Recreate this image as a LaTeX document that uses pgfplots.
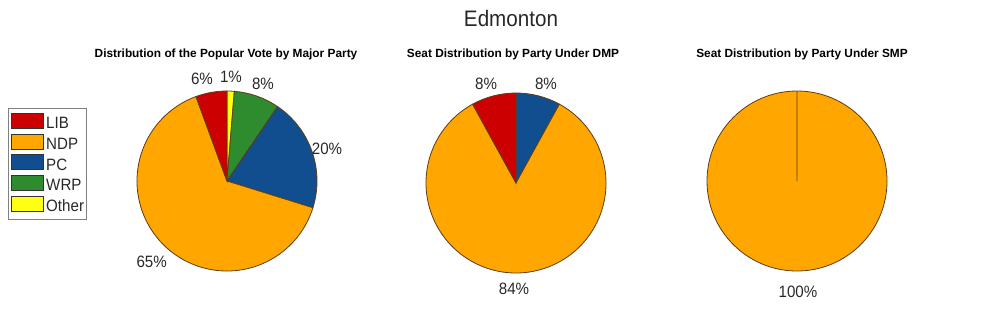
\documentclass[border=0pt]{standalone}
\usepackage{pgfplots}
\pgfplotsset{compat=1.18}
\usepackage{fontspec}
\setmainfont{Liberation Sans}[FakeStretch=0.92]
\newfontfamily\subfam{Liberation Sans}
\definecolor{LIBc}{RGB}{204,0,0}
\definecolor{NDPc}{RGB}{255,166,0}
\definecolor{PCc}{RGB}{16,78,143}
\definecolor{WRPc}{RGB}{46,139,46}
\definecolor{Otherc}{RGB}{255,255,20}
\definecolor{edge}{RGB}{95,60,25}
\definecolor{txt}{RGB}{40,40,40}
\newcommand\lblfont{\fontsize{16.5}{18}\selectfont}
\newcommand\subfont{\subfam\bfseries\fontsize{11.9}{13}\selectfont}
% pie slices: list of value/colour, clockwise from 12 o'clock
\newcommand\pieslices[1]{%
  \gdef\cum{0}%
  \foreach \val/\col in {#1}{%
    \pgfmathsetmacro\sa{90-3.6*\cum}%
    \pgfmathsetmacro\ea{90-3.6*(\cum+\val)}%
    \pgfmathsetmacro\cx{cos(\sa)}%
    \pgfmathsetmacro\cy{sin(\sa)}%
    \edef\tmp{\noexpand\filldraw[fill=\col,draw=edge,line width=0.8bp] (axis cs:0,0) -- (axis cs:\cx,\cy) arc[start angle=\sa,end angle=\ea,radius=90bp] -- cycle;}%
    \tmp
    \pgfmathsetmacro\nc{\cum+\val}%
    \xdef\cum{\nc}%
  }%
}
\pgfplotsset{pieaxis/.style={anchor=center, width=180bp, height=180bp, scale only axis,
  xmin=-1, xmax=1, ymin=-1, ymax=1, hide axis, clip=false}}
\begin{document}
\begin{tikzpicture}[x=1bp,y=1bp]
\path[use as bounding box] (0,0) rectangle (993,-324);
\node[anchor=base, font=\fontsize{22.5}{26}\selectfont, text=txt] at (511,-26.7) {Edmonton};
% ---- Pie 1: popular vote
\begin{axis}[pieaxis, at={(227bp,-181bp)},
  legend style={at={(-0.7167,0.9056)}, anchor=north west, draw=gray, line width=0.8bp,
    font=\lblfont, text=txt, inner xsep=2.7bp, inner ysep=4.5bp, row sep=1.25bp,
    nodes={inner sep=0pt, text height=11.5bp, text depth=3.5bp}},
  legend cell align=left]
\addlegendimage{legend image code/.code={\draw[fill=LIBc,draw=black!80,line width=0.8bp] (0bp,-3.5bp) rectangle (31.6bp,11.5bp);}}
\addlegendentry{\,LIB}
\addlegendimage{legend image code/.code={\draw[fill=NDPc,draw=black!80,line width=0.8bp] (0bp,-3.5bp) rectangle (31.6bp,11.5bp);}}
\addlegendentry{\,NDP}
\addlegendimage{legend image code/.code={\draw[fill=PCc,draw=black!80,line width=0.8bp] (0bp,-3.5bp) rectangle (31.6bp,11.5bp);}}
\addlegendentry{\,PC}
\addlegendimage{legend image code/.code={\draw[fill=WRPc,draw=black!80,line width=0.8bp] (0bp,-3.5bp) rectangle (31.6bp,11.5bp);}}
\addlegendentry{\,WRP}
\addlegendimage{legend image code/.code={\draw[fill=Otherc,draw=black!80,line width=0.8bp] (0bp,-3.5bp) rectangle (31.6bp,11.5bp);}}
\addlegendentry{\,Other}
\pieslices{1.3/Otherc, 8.2/WRPc, 20.3/PCc, 64.6/NDPc, 5.6/LIBc}
\node[anchor=base, font=\lblfont, text=txt] at (axis cs:-0.278,1.072) {6\%};
\node[anchor=base, font=\lblfont, text=txt] at (axis cs:0.044,1.092) {1\%};
\node[anchor=base, font=\lblfont, text=txt] at (axis cs:0.4,1.019) {8\%};
\node[anchor=base, font=\lblfont, text=txt] at (axis cs:1.111,0.3) {20\%};
\node[anchor=base, font=\lblfont, text=txt] at (axis cs:-0.837,-0.959) {65\%};
\end{axis}
% ---- Pie 2: DMP
\begin{axis}[pieaxis, at={(516bp,-183bp)}]
\pieslices{8/PCc, 84/NDPc, 8/LIBc}
\node[anchor=base, font=\lblfont, text=txt] at (axis cs:-0.333,1.041) {8\%};
\node[anchor=base, font=\lblfont, text=txt] at (axis cs:0.333,1.041) {8\%};
\node[anchor=base, font=\lblfont, text=txt] at (axis cs:-0.022,-1.244) {84\%};
\end{axis}
% ---- Pie 3: SMP
\begin{axis}[pieaxis, at={(797bp,-181bp)}]
\pieslices{100/NDPc}
\node[anchor=base, font=\lblfont, text=txt] at (axis cs:0.011,-1.292) {100\%};
\end{axis}
\node[anchor=base, font=\subfont] at (226,-57) {Distribution of the Popular Vote by Major Party};
\node[anchor=base, font=\subfont] at (513,-57) {Seat Distribution by Party Under DMP};
\node[anchor=base, font=\subfont] at (802,-57) {Seat Distribution by Party Under SMP};
\end{tikzpicture}
\end{document}
